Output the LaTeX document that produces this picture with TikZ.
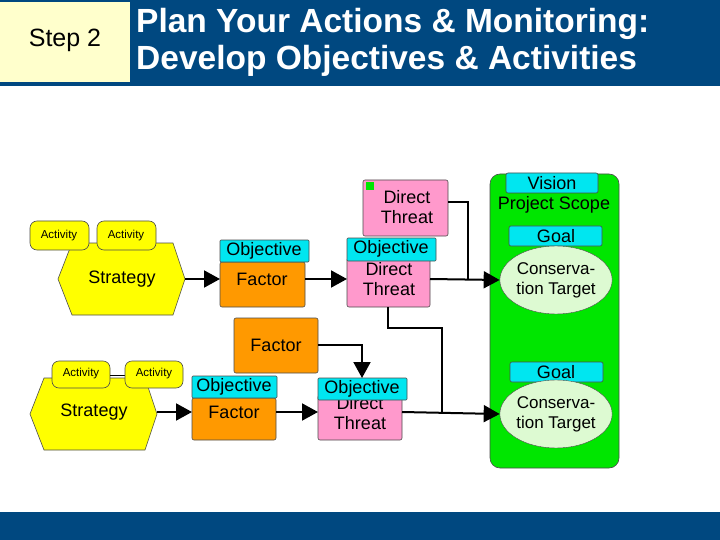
\documentclass[tikz,border=0pt]{standalone}
\usepackage{fontspec}
\setmainfont{Liberation Sans}
\usetikzlibrary{arrows.meta,shapes.geometric}
\definecolor{hdr}{RGB}{0,72,128}
\definecolor{stepbg}{RGB}{255,255,204}
\definecolor{yel}{RGB}{255,255,0}
\definecolor{org}{RGB}{255,153,0}
\definecolor{pnk}{RGB}{255,153,204}
\definecolor{cyn}{RGB}{0,230,240}
\definecolor{grn}{RGB}{0,230,0}
\definecolor{ell}{RGB}{221,250,210}
\begin{document}
\begin{tikzpicture}[x=1pt,y=-1pt,
  box/.style={draw=black!70,rounded corners=2pt,line width=0.6pt},
  lbl/.style={font=\fontsize{18}{20}\selectfont,align=center,inner sep=0pt},
  small/.style={font=\fontsize{11.5}{12}\selectfont,inner sep=0pt},
  conn/.style={line width=2pt},
  arr/.style={line width=2pt,-{Triangle[length=16pt,width=17pt]}}]
\useasboundingbox (0,0) rectangle (720,540);
\fill[white] (0,0) rectangle (720,540);
% header
\fill[hdr] (0,0) rectangle (720,86);
\fill[hdr] (0,512) rectangle (720,540);
\fill[stepbg] (0,2) rectangle (130,82);
\node[font=\fontsize{25}{27}\selectfont,anchor=center] (step) at (65,40) {Step 2};
\node[font=\bfseries\fontsize{33.5}{37}\selectfont,text=white,align=left,anchor=west,inner sep=0pt] (title) at (136,42) {Plan Your Actions \& Monitoring:\\Develop Objectives \& Activities};
% green scope
\draw[box,fill=grn,rounded corners=10pt] (490,174) rectangle (619,468);
\draw[box,fill=cyn] (506,173) rectangle (598,193);
\node[lbl] (vision) at (552,183) {Vision};
\node[lbl] (scope) at (554,205) {Project Scope};
\draw[box,fill=cyn] (509,226) rectangle (602,246);
\node[lbl] (goal1) at (556,236) {Goal};
\node[draw=black!70,fill=ell,ellipse,minimum width=96pt,minimum height=68pt,inner sep=0pt,lbl,font=\fontsize{17}{20}\selectfont] (ct1) at (556,280) {Conserva-\\tion Target};
\draw[box,fill=cyn] (510,362) rectangle (603,382);
\node[lbl] (goal2) at (556,372) {Goal};
\node[draw=black!70,fill=ell,ellipse,minimum width=96pt,minimum height=68pt,inner sep=0pt,lbl,font=\fontsize{17}{20}\selectfont] (ct2) at (556,414) {Conserva-\\tion Target};
% top strategy
\draw[box,fill=yel,rounded corners=0pt] (72,243)--(173,243)--(185,279)--(173,315)--(72,315)--(58,279)--cycle;
\node[lbl] (s1) at (122,279) {Strategy};
\coordinate (s1r) at (185,279);
\draw[box,fill=yel,rounded corners=7pt] (30,221) rectangle (89,250);
\node[small] (a1) at (59,236) {Activity};
\draw[box,fill=yel,rounded corners=7pt] (97,221) rectangle (156,250);
\node[small] (a2) at (126,236) {Activity};
% factor 1
\draw[box,fill=org] (220,262) rectangle (305,307);
\node[lbl] (f1) at (262,279) {Factor};
\draw[box,fill=cyn,rounded corners=1pt] (220,240) rectangle (309,262);
\node[lbl] (o1) at (264,251) {Objective};
% direct threat mid
\draw[box,fill=pnk] (347,258) rectangle (430,307);
\node[lbl] (dt1) at (389,279) {Direct\\Threat};
\draw[box,fill=cyn,rounded corners=1pt] (347,238) rectangle (436,261);
\node[lbl] (o2) at (391,249) {Objective};
% top direct threat
\draw[box,fill=pnk] (363,180) rectangle (448,236);
\fill[grn] (366,182) rectangle (374,190);
\node[lbl] (dt0) at (407,207) {Direct\\Threat};
% scope arrow junction
\coordinate (j1) at (468,279);
\draw[conn] (448,202) -| (j1);
\draw[arr] (430,279) -- (ct1.west);
\draw[arr] (s1r) -- (220,279);
\draw[arr] (305,279) -- (347,279);
% middle factor
\draw[box,fill=org] (234,318) rectangle (318,373);
\node[lbl] (fm) at (276,345) {Factor};
% bottom strategy
\draw[box,fill=yel,rounded corners=0pt] (44,378)--(145,378)--(157,414)--(145,450)--(44,450)--(30,414)--cycle;
\node[lbl] (s2) at (94,412) {Strategy};
\draw[box,fill=yel,rounded corners=7pt] (52,361) rectangle (110,388);
\node[small] (a3) at (81,374) {Activity};
\draw[line width=0.8pt] (110,375) -- (125,375);
\draw[box,fill=yel,rounded corners=7pt] (125,361) rectangle (183,388);
\node[small] (a4) at (154,374) {Activity};
\draw[box,fill=org] (192,398) rectangle (276,440);
\node[lbl] (f2) at (234,412) {Factor};
\draw[box,fill=cyn,rounded corners=1pt] (192,376) rectangle (277,398);
\node[lbl] (o3) at (234,387) {Objective};
\draw[box,fill=pnk] (318,395) rectangle (402,440);
\node[lbl] (dt2) at (360,413) {Direct\\Threat};
\draw[box,fill=cyn,rounded corners=1pt] (318,378) rectangle (407,400);
\node[lbl] (o4) at (362,389) {Objective};
\draw[arr] (157,412) -- (192,412);
\draw[arr] (276,412) -- (318,412);
\draw[arr] (318,345) -| (362,378);
\draw[conn] (388,307) |- (442,328) -- (442,412);
\draw[arr] (402,412) -- (ct2.west);
\end{tikzpicture}
\end{document}
